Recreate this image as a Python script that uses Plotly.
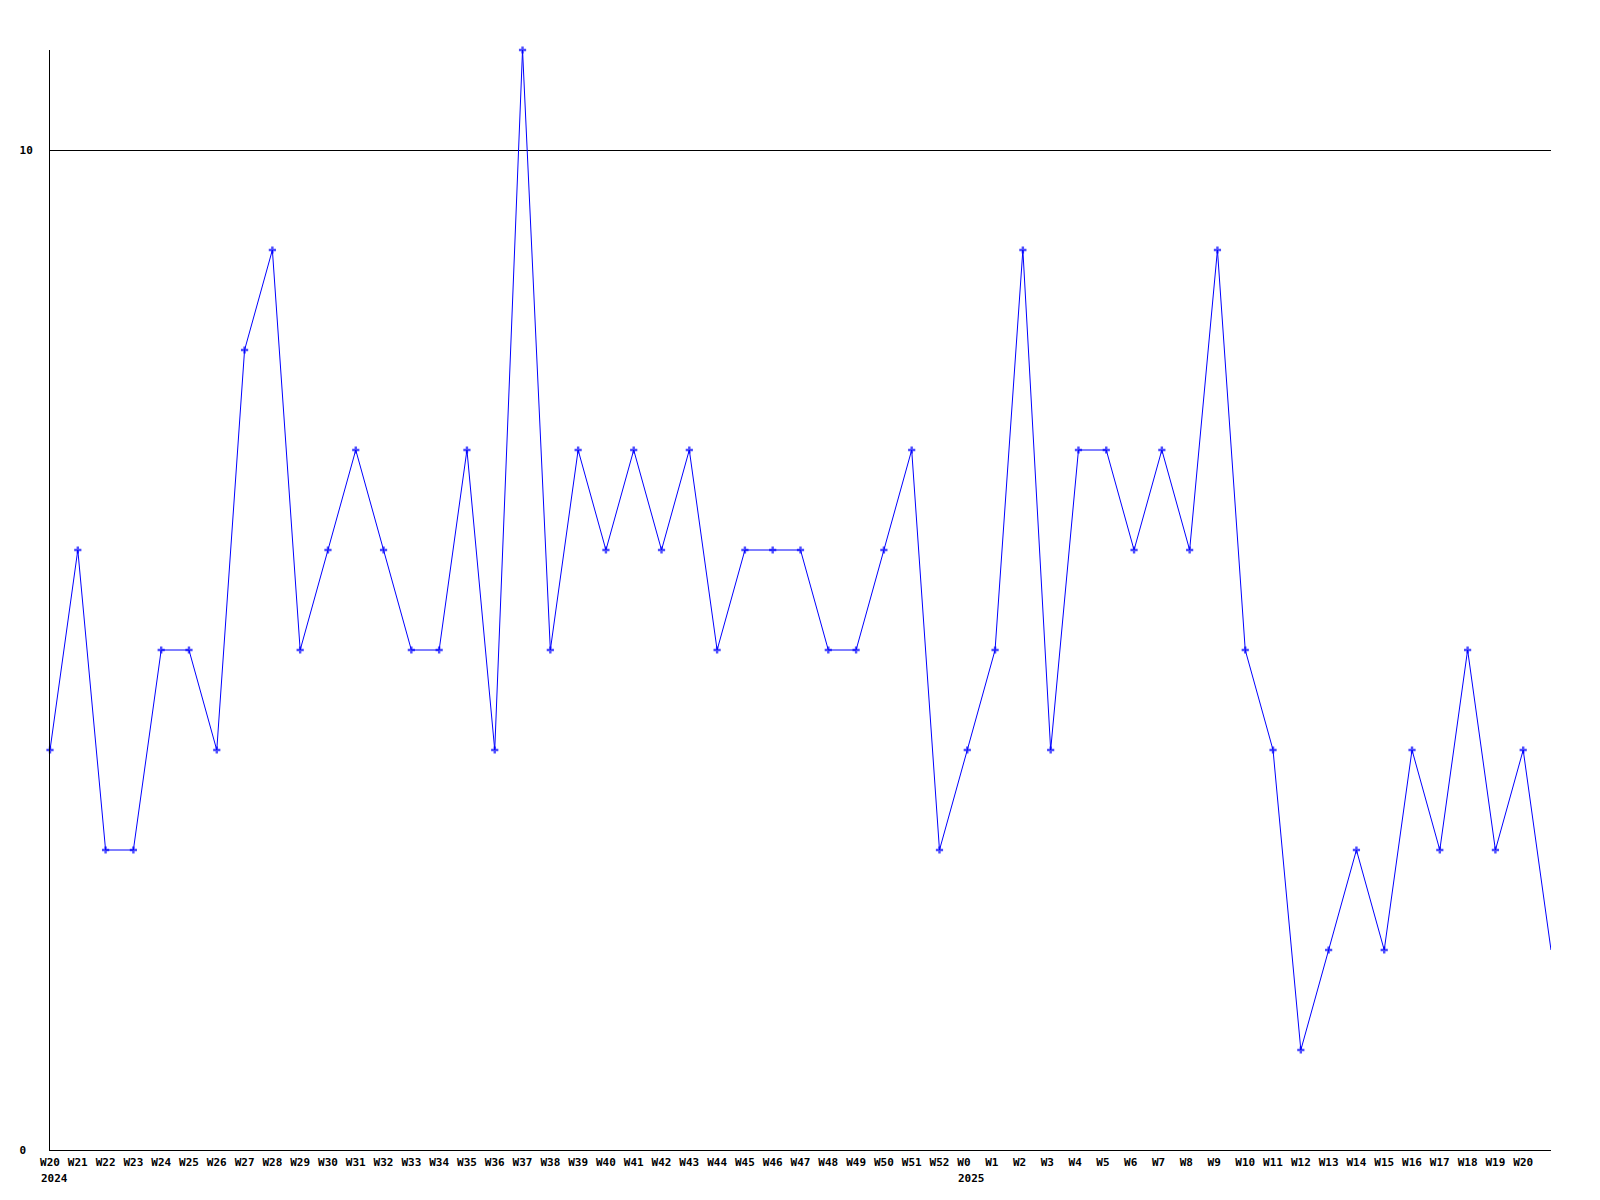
import plotly.graph_objects as go

weeks = (["W%d" % w for w in range(20, 53)] + ["W%d" % w for w in range(0, 22)])
values = [4, 6, 3, 3, 5, 5, 4, 8, 9, 5, 6, 7, 6, 5, 5, 7, 4, 11, 5, 7, 6, 7, 6, 7,
          5, 6, 6, 6, 5, 5, 6, 7, 3,
          4, 5, 9, 4, 7, 7, 6, 7, 6, 9, 5, 4, 1, 2, 3, 2, 4, 3, 5, 3, 4, 2]
years = [("2024", "W20"), ("2025", "W0")]
y_ticks = [0, 10]

x = list(range(len(values)))
n_labels = len(values) - 1
ticktext = [w if len(w) >= 3 else w + "\u00a0" for w in weeks[:n_labels]]
marker_sizes = [6] * n_labels + [0]

font = dict(family="DejaVu Sans Mono", size=11, color="black", weight="bold")

fig = go.Figure()
fig.add_trace(go.Scatter(
    x=x, y=values, mode="lines+markers",
    line=dict(color="#0000ff", width=1),
    marker=dict(symbol="cross", size=marker_sizes, color="#0000ff", line=dict(width=0)),
    cliponaxis=False, showlegend=False, hoverinfo="skip",
))

annotations = []
for label, wk in years:
    idx = weeks.index(wk)
    annotations.append(dict(
        x=idx, y=0, xref="x", yref="paper", text=label, showarrow=False,
        xanchor="left", yanchor="top", xshift=-11.5, yshift=-20,
        font=font,
    ))

fig.update_layout(
    width=1600, height=1200,
    margin=dict(l=50, r=49, t=50, b=50),
    paper_bgcolor="white", plot_bgcolor="white",
    font=font,
    annotations=annotations,
    xaxis=dict(
        range=[0, len(values) - 1], tickmode="array",
        tickvals=x[:n_labels], ticktext=ticktext,
        showgrid=False, zeroline=False, showline=True, linecolor="black", linewidth=1,
        ticks="", tickfont=font, ticklabelstandoff=2,
    ),
    yaxis=dict(
        range=[0, 11], tickmode="array", tickvals=y_ticks,
        ticktext=["0\u00a0", "10"],
        showgrid=True, gridcolor="black", gridwidth=1, zeroline=False,
        showline=True, linecolor="black", linewidth=1,
        ticks="", tickfont=font, ticklabelstandoff=14,
    ),
)

fig.write_html("out.html", config={"displayModeBar": False},
               post_script="document.body.style.margin='0px';")
